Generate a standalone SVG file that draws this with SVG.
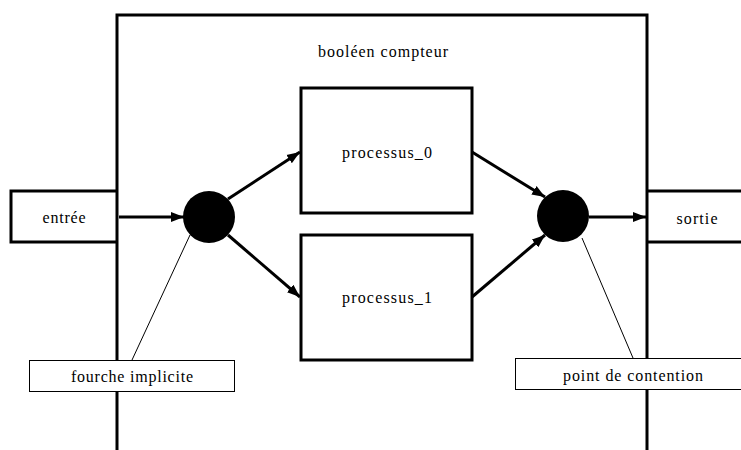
<svg xmlns="http://www.w3.org/2000/svg" width="741" height="450" viewBox="0 0 741 450">
<style>
.thick{fill:none;stroke:#000;stroke-width:3}
.box{fill:#fff;stroke:#000;stroke-width:3}
.note{fill:#fff;stroke:#000;stroke-width:1}
.dot{fill:#000}
text{font-family:Liberation Serif, DejaVu Serif, serif;font-size:16px;fill:#000;text-anchor:middle}
.arr{fill:none;stroke:#000;stroke-width:3;marker-end:url(#ah)}
.lead{fill:none;stroke:#000;stroke-width:1}
</style>
<defs>
<marker id="ah" markerUnits="userSpaceOnUse" markerWidth="14" markerHeight="12" refX="13" refY="6" orient="auto">
<path d="M0,1 L13,6 L0,11 Z" fill="#000"/>
</marker>
</defs>
<rect width="741" height="450" fill="#fff"/>
<g id="compteur">
<path class="thick" d="M117,452 V15 H647 V452"/>
<text x="383" y="57" font-family="Liberation Serif" textLength="130" lengthAdjust="spacing">booléen compteur</text>
</g>
<g id="entree">
<path class="thick" d="M117,191 H11 V242 H117"/>
<text x="64" y="223" font-family="Liberation Serif" textLength="43" lengthAdjust="spacing">entrée</text>
</g>
<g id="sortie">
<path class="thick" d="M745,191 H647 M647,242 H745"/>
<text x="697" y="224" font-family="Liberation Serif" textLength="41" lengthAdjust="spacing">sortie</text>
</g>
<g id="processus_0">
<rect class="box" x="301" y="88" width="171" height="125"/>
<text x="387" y="158" font-family="Liberation Serif" textLength="90" lengthAdjust="spacing">processus_0</text>
</g>
<g id="processus_1">
<rect class="box" x="301" y="235" width="171" height="125"/>
<text x="387" y="303" font-family="Liberation Serif" textLength="90" lengthAdjust="spacing">processus_1</text>
</g>
<g id="fourche">
<circle class="dot" cx="209" cy="217" r="26"/>
</g>
<g id="jonction">
<circle class="dot" cx="563" cy="216" r="26"/>
</g>
<g id="connectors">
<line class="arr" x1="119" y1="217" x2="184" y2="217"/>
<line class="arr" x1="228" y1="199" x2="300" y2="152"/>
<line class="arr" x1="228" y1="235" x2="300" y2="297"/>
<line class="arr" x1="472" y1="152" x2="545" y2="197"/>
<line class="arr" x1="472" y1="297" x2="545" y2="235"/>
<line class="arr" x1="589" y1="217" x2="646" y2="217"/>
<line class="lead" x1="190" y1="235" x2="132" y2="360"/>
<line class="lead" x1="582" y1="238" x2="633" y2="358"/>
</g>
<g id="fourche_implicite">
<rect class="note" x="29.5" y="360.5" width="205" height="31"/>
<text x="132" y="382" font-family="Liberation Serif" textLength="122" lengthAdjust="spacing">fourche implicite</text>
</g>
<g id="point_de_contention">
<rect class="note" x="515.5" y="358.5" width="230" height="31"/>
<text x="633" y="381" font-family="Liberation Serif" textLength="140" lengthAdjust="spacing">point de contention</text>
</g>
</svg>
